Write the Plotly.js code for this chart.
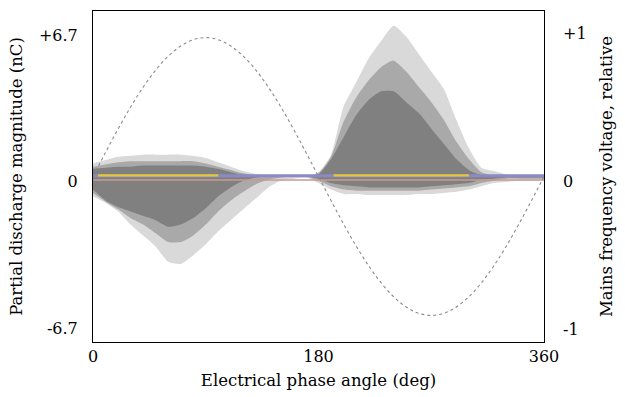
<!DOCTYPE html>
<html>
<head>
<meta charset="utf-8">
<script src="https://cdn.plot.ly/plotly-3.0.1.min.js"></script>
<style>html,body{margin:0;padding:0;background:#fff;}#chart{width:625px;height:397px;}</style>
</head>
<body>
<div id="chart"></div>
<script>
// Electrical phase (deg), sampled every 10 deg
const phase = [0,10,20,30,40,50,60,70,80,90,100,110,120,130,140,150,160,170,180,
               190,200,210,220,230,240,250,260,270,280,290,300,310,320,330,340,350,360];
// PD cloud envelopes (nC): outer sparse dots, speckled zone, solid core
const sparseUpper = [0.6,0.75,0.9,0.95,1.0,1.0,1.0,1.0,0.95,0.85,0.65,0.45,0.25,0.12,0.05,0.0,0.0,0.0,0.2,
                     1.0,3.2,4.3,5.4,6.2,6.9,6.4,5.6,4.8,4.0,2.6,1.3,0.4,0.25,0.1,0.05,0.05,0.05];
const midUpper    = [0.45,0.55,0.65,0.7,0.7,0.7,0.7,0.7,0.7,0.6,0.45,0.3,0.15,0.05,0.0,0.0,0.0,0.0,0.15,
                     0.9,2.5,3.6,4.4,5.0,5.3,4.8,4.1,3.4,2.6,1.6,0.8,0.2,0.05,0.0,0.0,0.0,0.0];
const denseUpper  = [0.35,0.4,0.45,0.45,0.5,0.5,0.5,0.5,0.5,0.45,0.35,0.2,0.08,0.02,0.0,0.0,0.0,0.0,0.1,
                     0.8,1.8,2.8,3.5,3.9,3.9,3.4,2.9,2.2,1.5,0.8,0.3,0.05,0.0,0.0,0.0,0.0,0.0];
const denseLower  = [-0.6,-1.1,-1.4,-1.6,-1.8,-2.0,-2.3,-2.2,-1.9,-1.45,-0.9,-0.5,-0.2,-0.05,0.0,0.0,0.0,0.0,-0.1,
                     -0.3,-0.4,-0.45,-0.5,-0.5,-0.5,-0.5,-0.5,-0.45,-0.4,-0.35,-0.3,-0.15,-0.1,-0.05,-0.05,-0.05,-0.05];
const midLower    = [-0.75,-1.15,-1.5,-1.9,-2.2,-2.6,-3.0,-3.0,-2.7,-2.2,-1.6,-1.1,-0.7,-0.35,-0.15,-0.05,0.0,0.0,-0.2,
                     -0.45,-0.6,-0.65,-0.65,-0.65,-0.65,-0.65,-0.65,-0.6,-0.55,-0.5,-0.45,-0.3,-0.2,-0.1,-0.1,-0.1,-0.1];
const sparseLower = [-0.9,-1.2,-1.6,-2.2,-2.7,-3.2,-3.9,-4.0,-3.6,-3.1,-2.5,-2.0,-1.5,-1.0,-0.5,-0.2,-0.1,-0.05,-0.3,
                     -0.6,-0.8,-0.8,-0.85,-0.85,-0.85,-0.85,-0.8,-0.8,-0.75,-0.7,-0.6,-0.45,-0.3,-0.25,-0.2,-0.2,-0.2];
// Mains voltage reference (relative)
const sineRel = [0,0.163,0.321,0.47,0.604,0.72,0.814,0.883,0.926,0.94,0.926,0.883,0.814,0.72,0.604,0.47,0.321,0.163,0,
                 -0.163,-0.321,-0.47,-0.604,-0.72,-0.814,-0.883,-0.926,-0.94,-0.926,-0.883,-0.814,-0.72,-0.604,-0.47,-0.321,-0.163,0];
// Highest-density phase spans along the baseline (deg)
const hotSpanA = [4, 100];
const hotSpanB = [192, 300];
const fullSpan = [0, 360];
const xTicks = [0, 180, 360];
const yTicks = [-6.7, 0, 6.7];
const yTickText = ['-6.7', '0', '+6.7'];
const y2Ticks = [-1, 0, 1];
const y2TickText = ['-1', '0', '+1'];

const tickFont = {family: 'DejaVu Serif', size: 16, color: '#000'};
const titleFont = {family: 'DejaVu Serif', size: 16.5, color: '#000'};

function area(y, color) {
  return {x: phase, y: y, type: 'scatter', mode: 'lines', fill: 'tozeroy',
          fillcolor: color, line: {color: color, width: 0, shape: 'spline', smoothing: 0.6},
          hoverinfo: 'skip', showlegend: false};
}
function hline(span, yv, color, width) {
  return {x: span, y: [yv, yv], type: 'scatter', mode: 'lines',
          line: {color: color, width: width}, hoverinfo: 'skip', showlegend: false};
}

const traces = [
  area(sparseUpper, '#d9d9d9'),
  area(sparseLower, '#d9d9d9'),
  area(midUpper, '#a9a9a9'),
  area(midLower, '#a9a9a9'),
  area(denseUpper, '#808080'),
  area(denseLower, '#808080'),
  hline(fullSpan, -0.16, '#c99a90', 1.5),
  hline(fullSpan, 0.03, '#8a8ac4', 3),
  hline(hotSpanA, 0.05, '#e3c938', 2.4),
  hline(hotSpanB, 0.05, '#e3c938', 2.4),
  {x: phase, y: sineRel, yaxis: 'y2', type: 'scatter', mode: 'lines',
   line: {color: '#8a8a8a', width: 1.1, dash: 'dot', shape: 'spline'},
   hoverinfo: 'skip', showlegend: false}
];

const layout = {
  width: 625, height: 397,
  margin: {l: 93, r: 81, t: 11, b: 55},
  paper_bgcolor: '#fff', plot_bgcolor: '#fff',
  font: tickFont,
  showlegend: false,
  xaxis: {range: [0, 360], tickvals: xTicks, ticktext: xTicks.map(String),
          showline: true, mirror: true, linecolor: '#000', linewidth: 1,
          showgrid: false, zeroline: false, ticks: '', tickfont: tickFont,
          title: {text: 'Electrical phase angle (deg)', font: titleFont, standoff: 9}},
  yaxis: {range: [-7.57, 7.57], tickvals: yTicks, ticktext: yTickText,
          showline: true, mirror: true, linecolor: '#000', linewidth: 1,
          showgrid: false, zeroline: false, ticks: '', tickfont: tickFont,
          ticklabelstandoff: 11, ticklabelshift: 5,
          title: {text: 'Partial discharge magnitude (nC)', font: titleFont, standoff: 12}},
  yaxis2: {range: [-1.12, 1.12], overlaying: 'y', side: 'right',
           tickvals: y2Ticks, ticktext: y2TickText,
           showline: false, showgrid: false, zeroline: false, ticks: '', tickfont: tickFont,
           ticklabelstandoff: 18, ticklabelshift: 5,
           title: {text: 'Mains frequency voltage, relative', font: titleFont, standoff: 14}}
};

Plotly.newPlot('chart', traces, layout, {displayModeBar: false, staticPlot: true});
</script>
</body>
</html>
